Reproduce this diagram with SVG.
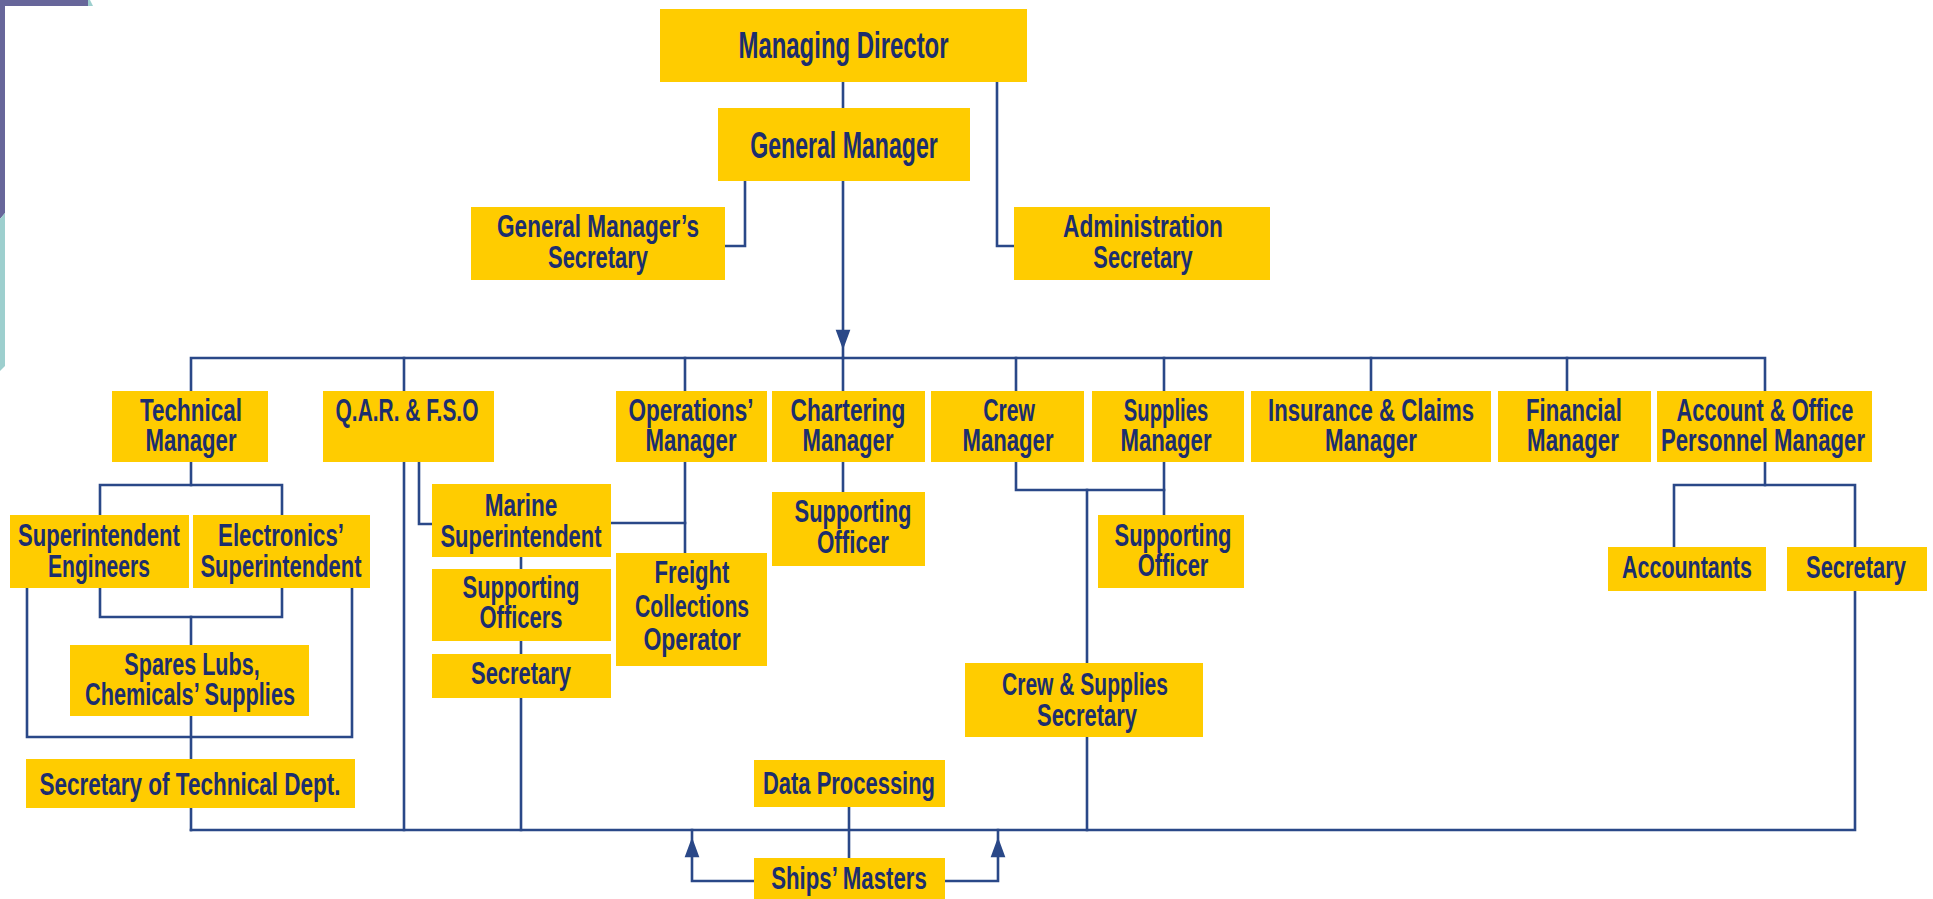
<svg xmlns="http://www.w3.org/2000/svg" width="1933" height="899" viewBox="0 0 1933 899">
  <style>
    .box { fill: #FFCC00; }
    .t { font-family: "Liberation Sans", Arial, sans-serif; font-weight: bold; font-size: 32px; fill: #1C2E6E; text-anchor: middle; }
    .big { font-size: 36px; }
    .wire { fill: none; stroke: #2A4888; stroke-width: 2.6; stroke-linejoin: miter; stroke-linecap: square; }
    .head { fill: #2A4888; }
  </style>
  <defs>
    <path id="arrow-up" d="M0,0 L5.5,15 L-5.5,15 Z"/>
    <path id="arrow-down" d="M-5.5,0 L5.5,0 L0,15 Z"/>
  </defs>

  <rect width="1933" height="899" fill="#FFFFFF"/>

  <!-- corner trim -->
  <g id="corner-trim">
    <polygon points="0,0 88,0 88,6 5,6 5,213 0,219" fill="#67669A"/>
    <polygon points="88,0 90,0 93,6 88,6" fill="#9DCFCE"/>
    <polygon points="0,219 5,213 5,366 0,371" fill="#9DCFCE"/>
  </g>

  <!-- connectors -->
  <g id="connectors" class="wire">
    <path d="M843,82 V108"/>
    <path d="M997,82 V246 H1014"/>
    <path d="M745,181 V246 H725"/>
    <path d="M843,181 V358"/>
    <path d="M191,391 V358 H1765 V391"/>
    <path d="M404,358 V391 M685,358 V391 M843,358 V391 M1016,358 V391 M1164,358 V391 M1371,358 V391 M1567,358 V391"/>
    <!-- technical department -->
    <path d="M191,462 V485"/>
    <path d="M100,515 V485 H282 V515"/>
    <path d="M100,588 V617 H282 V588"/>
    <path d="M27,588 V737 H352 V588"/>
    <path d="M191,617 V830"/>
    <!-- bottom bus -->
    <path d="M191,830 H1855 V591"/>
    <!-- Q.A.R. & F.S.O -->
    <path d="M404,462 V830"/>
    <path d="M419,462 V524 H432"/>
    <path d="M521,557 V830"/>
    <!-- operations -->
    <path d="M611,523 H685"/>
    <path d="M685,462 V553"/>
    <!-- chartering -->
    <path d="M843,462 V492"/>
    <!-- crew and supplies -->
    <path d="M1016,462 V490 H1164"/>
    <path d="M1164,462 V515"/>
    <path d="M1087,490 V663"/>
    <path d="M1087,737 V830"/>
    <!-- accounts -->
    <path d="M1765,462 V485"/>
    <path d="M1674,547 V485 H1855 V547"/>
    <!-- data processing and ships' masters -->
    <path d="M849,807 V858"/>
    <path d="M754,881 H692 V830"/>
    <path d="M945,881 H998 V830"/>
    <use href="#arrow-down" x="843" y="331" class="head"/>
    <use href="#arrow-up" x="692" y="841" class="head"/>
    <use href="#arrow-up" x="998" y="841" class="head"/>
  </g>

  <!-- top management -->
  <g id="managing-director">
    <rect class="box" x="660" y="9" width="367" height="73"/>
    <text class="t big" transform="translate(843.5 58) scale(0.68 1)" textLength="309" lengthAdjust="spacingAndGlyphs">Managing Director</text>
  </g>
  <g id="general-manager">
    <rect class="box" x="718" y="108" width="252" height="73"/>
    <text class="t big" transform="translate(844 158) scale(0.68 1)" textLength="276" lengthAdjust="spacingAndGlyphs">General Manager</text>
  </g>
  <g id="gm-secretary">
    <rect class="box" x="471" y="207" width="254" height="73"/>
    <text class="t" transform="translate(598 237) scale(0.68 1)" textLength="297" lengthAdjust="spacingAndGlyphs">General Manager’s</text>
    <text class="t" transform="translate(598 268) scale(0.68 1)" textLength="147" lengthAdjust="spacingAndGlyphs">Secretary</text>
  </g>
  <g id="admin-secretary">
    <rect class="box" x="1014" y="207" width="256" height="73"/>
    <text class="t" transform="translate(1143 237) scale(0.68 1)" textLength="235" lengthAdjust="spacingAndGlyphs">Administration</text>
    <text class="t" transform="translate(1143 268) scale(0.68 1)" textLength="146" lengthAdjust="spacingAndGlyphs">Secretary</text>
  </g>

  <!-- department managers -->
  <g id="technical-manager">
    <rect class="box" x="112" y="391" width="156" height="71"/>
    <text class="t" transform="translate(191 421) scale(0.68 1)" textLength="150" lengthAdjust="spacingAndGlyphs">Technical</text>
    <text class="t" transform="translate(191 451) scale(0.68 1)" textLength="134" lengthAdjust="spacingAndGlyphs">Manager</text>
  </g>
  <g id="qar-fso">
    <rect class="box" x="323" y="391" width="171" height="71"/>
    <text class="t" transform="translate(407 421) scale(0.68 1)" textLength="210" lengthAdjust="spacingAndGlyphs">Q.A.R. &amp; F.S.O</text>
  </g>
  <g id="operations-manager">
    <rect class="box" x="616" y="391" width="151" height="71"/>
    <text class="t" transform="translate(691 421) scale(0.68 1)" textLength="184" lengthAdjust="spacingAndGlyphs">Operations’</text>
    <text class="t" transform="translate(691 451) scale(0.68 1)" textLength="134" lengthAdjust="spacingAndGlyphs">Manager</text>
  </g>
  <g id="chartering-manager">
    <rect class="box" x="772" y="391" width="153" height="71"/>
    <text class="t" transform="translate(848 421) scale(0.68 1)" textLength="169" lengthAdjust="spacingAndGlyphs">Chartering</text>
    <text class="t" transform="translate(848 451) scale(0.68 1)" textLength="134" lengthAdjust="spacingAndGlyphs">Manager</text>
  </g>
  <g id="crew-manager">
    <rect class="box" x="931" y="391" width="153" height="71"/>
    <text class="t" transform="translate(1009 421) scale(0.68 1)" textLength="76" lengthAdjust="spacingAndGlyphs">Crew</text>
    <text class="t" transform="translate(1008 451) scale(0.68 1)" textLength="134" lengthAdjust="spacingAndGlyphs">Manager</text>
  </g>
  <g id="supplies-manager">
    <rect class="box" x="1092" y="391" width="152" height="71"/>
    <text class="t" transform="translate(1166 421) scale(0.68 1)" textLength="124" lengthAdjust="spacingAndGlyphs">Supplies</text>
    <text class="t" transform="translate(1166 451) scale(0.68 1)" textLength="134" lengthAdjust="spacingAndGlyphs">Manager</text>
  </g>
  <g id="insurance-manager">
    <rect class="box" x="1251" y="391" width="240" height="71"/>
    <text class="t" transform="translate(1371 421) scale(0.68 1)" textLength="303" lengthAdjust="spacingAndGlyphs">Insurance &amp; Claims</text>
    <text class="t" transform="translate(1371 451) scale(0.68 1)" textLength="135" lengthAdjust="spacingAndGlyphs">Manager</text>
  </g>
  <g id="financial-manager">
    <rect class="box" x="1498" y="391" width="153" height="71"/>
    <text class="t" transform="translate(1574 421) scale(0.68 1)" textLength="141" lengthAdjust="spacingAndGlyphs">Financial</text>
    <text class="t" transform="translate(1573 451) scale(0.68 1)" textLength="135" lengthAdjust="spacingAndGlyphs">Manager</text>
  </g>
  <g id="account-manager">
    <rect class="box" x="1657" y="391" width="215" height="71"/>
    <text class="t" transform="translate(1765 421) scale(0.68 1)" textLength="260" lengthAdjust="spacingAndGlyphs">Account &amp; Office</text>
    <text class="t" transform="translate(1763 451) scale(0.68 1)" textLength="300" lengthAdjust="spacingAndGlyphs">Personnel Manager</text>
  </g>

  <!-- technical department -->
  <g id="superintendent-engineers">
    <rect class="box" x="10" y="515" width="179" height="73"/>
    <text class="t" transform="translate(99 546) scale(0.68 1)" textLength="238" lengthAdjust="spacingAndGlyphs">Superintendent</text>
    <text class="t" transform="translate(99 577) scale(0.68 1)" textLength="150" lengthAdjust="spacingAndGlyphs">Engineers</text>
  </g>
  <g id="electronics-superintendent">
    <rect class="box" x="193" y="515" width="177" height="73"/>
    <text class="t" transform="translate(281 546) scale(0.68 1)" textLength="185" lengthAdjust="spacingAndGlyphs">Electronics’</text>
    <text class="t" transform="translate(281 577) scale(0.68 1)" textLength="237" lengthAdjust="spacingAndGlyphs">Superintendent</text>
  </g>
  <g id="spares-supplies">
    <rect class="box" x="70" y="645" width="239" height="71"/>
    <text class="t" transform="translate(192 675) scale(0.68 1)" textLength="199" lengthAdjust="spacingAndGlyphs">Spares Lubs,</text>
    <text class="t" transform="translate(190 705) scale(0.68 1)" textLength="309" lengthAdjust="spacingAndGlyphs">Chemicals’ Supplies</text>
  </g>
  <g id="technical-secretary">
    <rect class="box" x="26" y="759" width="329" height="49"/>
    <text class="t" transform="translate(190 795) scale(0.68 1)" textLength="443" lengthAdjust="spacingAndGlyphs">Secretary of Technical Dept.</text>
  </g>

  <!-- marine column -->
  <g id="marine-superintendent">
    <rect class="box" x="432" y="484" width="179" height="73"/>
    <text class="t" transform="translate(521 516) scale(0.68 1)" textLength="107" lengthAdjust="spacingAndGlyphs">Marine</text>
    <text class="t" transform="translate(521 547) scale(0.68 1)" textLength="237" lengthAdjust="spacingAndGlyphs">Superintendent</text>
  </g>
  <g id="supporting-officers">
    <rect class="box" x="432" y="569" width="179" height="72"/>
    <text class="t" transform="translate(521 598) scale(0.68 1)" textLength="172" lengthAdjust="spacingAndGlyphs">Supporting</text>
    <text class="t" transform="translate(521 628) scale(0.68 1)" textLength="122" lengthAdjust="spacingAndGlyphs">Officers</text>
  </g>
  <g id="qar-secretary">
    <rect class="box" x="432" y="654" width="179" height="44"/>
    <text class="t" transform="translate(521 684) scale(0.68 1)" textLength="147" lengthAdjust="spacingAndGlyphs">Secretary</text>
  </g>
  <g id="freight-operator">
    <rect class="box" x="616" y="553" width="151" height="113"/>
    <text class="t" transform="translate(692 583) scale(0.68 1)" textLength="110" lengthAdjust="spacingAndGlyphs">Freight</text>
    <text class="t" transform="translate(692 617) scale(0.68 1)" textLength="168" lengthAdjust="spacingAndGlyphs">Collections</text>
    <text class="t" transform="translate(692 650) scale(0.68 1)" textLength="143" lengthAdjust="spacingAndGlyphs">Operator</text>
  </g>
  <g id="chartering-officer">
    <rect class="box" x="772" y="492" width="153" height="74"/>
    <text class="t" transform="translate(853 522) scale(0.68 1)" textLength="172" lengthAdjust="spacingAndGlyphs">Supporting</text>
    <text class="t" transform="translate(853 553) scale(0.68 1)" textLength="106" lengthAdjust="spacingAndGlyphs">Officer</text>
  </g>
  <g id="supplies-officer">
    <rect class="box" x="1098" y="515" width="146" height="73"/>
    <text class="t" transform="translate(1173 546) scale(0.68 1)" textLength="172" lengthAdjust="spacingAndGlyphs">Supporting</text>
    <text class="t" transform="translate(1173 576) scale(0.68 1)" textLength="104" lengthAdjust="spacingAndGlyphs">Officer</text>
  </g>
  <g id="crew-supplies-secretary">
    <rect class="box" x="965" y="663" width="238" height="74"/>
    <text class="t" transform="translate(1085 695) scale(0.68 1)" textLength="244" lengthAdjust="spacingAndGlyphs">Crew &amp; Supplies</text>
    <text class="t" transform="translate(1087 726) scale(0.68 1)" textLength="147" lengthAdjust="spacingAndGlyphs">Secretary</text>
  </g>

  <!-- accounts -->
  <g id="accountants">
    <rect class="box" x="1608" y="547" width="158" height="44"/>
    <text class="t" transform="translate(1687 578) scale(0.68 1)" textLength="191" lengthAdjust="spacingAndGlyphs">Accountants</text>
  </g>
  <g id="account-secretary">
    <rect class="box" x="1787" y="547" width="140" height="44"/>
    <text class="t" transform="translate(1856 578) scale(0.68 1)" textLength="147" lengthAdjust="spacingAndGlyphs">Secretary</text>
  </g>

  <!-- bottom row -->
  <g id="data-processing">
    <rect class="box" x="754" y="760" width="191" height="47"/>
    <text class="t" transform="translate(849 794) scale(0.68 1)" textLength="253" lengthAdjust="spacingAndGlyphs">Data Processing</text>
  </g>
  <g id="ships-masters">
    <rect class="box" x="754" y="858" width="191" height="45"/>
    <text class="t" transform="translate(849 889) scale(0.68 1)" textLength="229" lengthAdjust="spacingAndGlyphs">Ships’ Masters</text>
  </g>
</svg>
